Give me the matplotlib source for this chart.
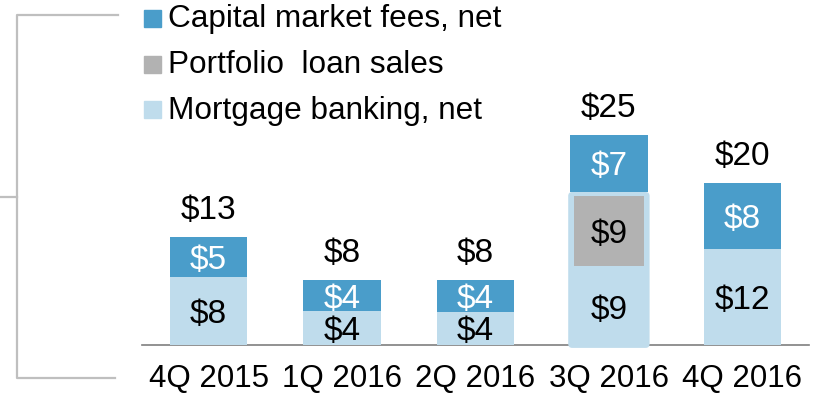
import matplotlib.pyplot as plt
from matplotlib.patches import Rectangle, FancyBboxPatch
from matplotlib.lines import Line2D

plt.rcParams['font.family'] = ['Liberation Sans', 'DejaVu Sans']

# data ($ millions)
quarters = ['4Q 2015', '1Q 2016', '2Q 2016', '3Q 2016', '4Q 2016']
mortgage = [8.2, 4.1, 4.0, 9.1, 11.6]
portfolio = [0, 0, 0, 9.4, 0]
capital = [4.85, 3.7, 3.85, 6.9, 7.95]
series_names = ['Capital market fees, net', 'Portfolio  loan sales', 'Mortgage banking, net']

c_cap = '#4A9DCA'
c_port = '#B2B2B2'
c_mort = '#BFDCEC'
c_line = '#BFBFBF'

W, H = 817, 400
fig = plt.figure(figsize=(W / 100, H / 100), dpi=100)
ax = fig.add_axes([142 / W, 55 / H, 667 / W, 345 / H])
ax.set_xlim(-0.5, 4.5)
ax.set_ylim(0, 345 / 8.27)

x = list(range(len(quarters)))
bw = 0.58
hl = 3  # quarter with the highlighted lower stack

for i in x:
    lower = mortgage[i] + portfolio[i]
    if i == hl:
        box = FancyBboxPatch((i - bw / 2 - 0.015, -0.35), bw + 0.03, lower + 0.35,
                             boxstyle='round,pad=0,rounding_size=0.03',
                             mutation_aspect=16.1, fc=c_mort, ec='none',
                             clip_on=False, zorder=2)
        ax.add_patch(box)
        ax.bar(i, portfolio[i] - 0.9, 0.525, bottom=mortgage[i] + 0.4,
               color=c_port, zorder=3)
    else:
        ax.bar(i, mortgage[i], bw, color=c_mort, zorder=2)
    ax.bar(i, capital[i], bw, bottom=lower, color=c_cap, zorder=2)

    # segment labels
    lab = dict(ha='center', va='baseline', fontsize=24, textcoords='offset points',
               xytext=(0, -8.6), zorder=5)
    ax.annotate(f'${round(mortgage[i])}', (i, mortgage[i] / 2), color='black', **lab)
    if portfolio[i]:
        ax.annotate(f'${round(portfolio[i])}', (i, mortgage[i] + portfolio[i] / 2),
                    color='black', **lab)
    ax.annotate(f'${round(capital[i])}', (i, lower + capital[i] / 2), color='white', **lab)

    total = lower + capital[i]
    ax.annotate(f'${round(total)}', (i, total), ha='center', va='baseline',
                fontsize=24, textcoords='offset points', xytext=(0, 13))

ax.set_xticks(x)
ax.set_xticklabels(quarters, fontsize=22.5)
ax.tick_params(axis='x', length=0, pad=14)
ax.set_yticks([])
for s in ['left', 'right', 'top']:
    ax.spines[s].set_visible(False)
ax.spines['bottom'].set_color('#7F7F7F')
ax.spines['bottom'].set_linewidth(1.2)
ax.spines['bottom'].set_zorder(1)


def px(xp, yp):
    return xp / W, 1 - yp / H


# legend drawn by hand
legend_colors = [c_cap, c_port, c_mort]
for k, (name, col) in enumerate(zip(series_names, legend_colors)):
    yc = 18.5 + 45.5 * k
    fig.patches.append(Rectangle(px(144, yc + 8.5), 17 / W, 17 / H, color=col,
                                 transform=fig.transFigure, figure=fig))
    fig.text(*px(168, yc + 9), name, fontsize=22.7, va='baseline', ha='left')

# bracket on the left
for xs, ys in [([118, 17, 17, 115], [15, 15, 378, 378]), ([0, 17], [197, 197])]:
    fig.add_artist(Line2D([a / W for a in xs], [1 - b / H for b in ys],
                          color=c_line, lw=1.6, transform=fig.transFigure))

fig.savefig('out.png', dpi=100)
